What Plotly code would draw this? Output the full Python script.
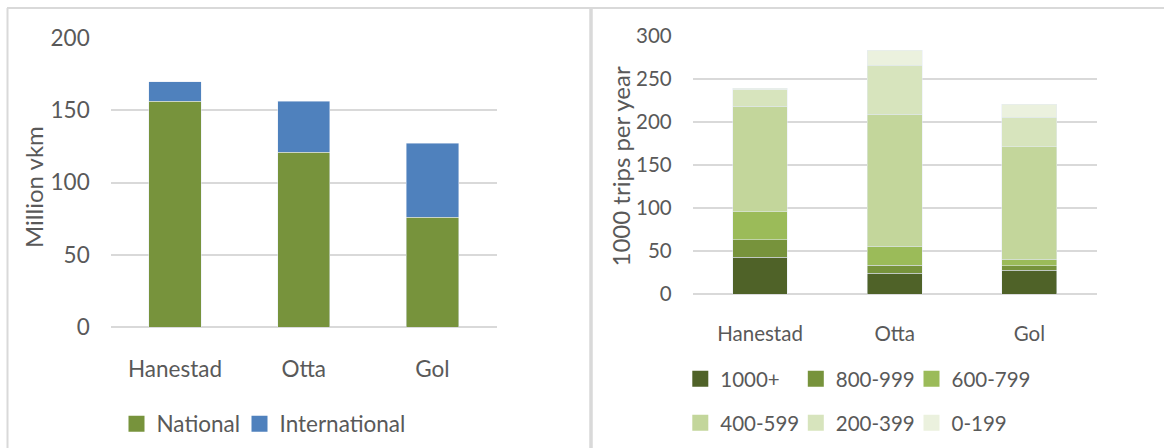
import plotly.graph_objects as go

W, H = 1164, 448

sites = ["Hanestad", "Otta", "Gol"]

# Vehicle kilometres, million vkm
national = [156, 121, 76]
international = [13.5, 35, 51]

# Trips per year (1000), by trip length band (km)
trips_1000_plus = [43.3, 24.7, 28.2]
trips_800_999 = [19.8, 9.3, 4.7]
trips_600_799 = [32.5, 22.1, 8.1]
trips_400_599 = [123.1, 153.3, 130.1]
trips_200_399 = [18.6, 56.9, 34.8]
trips_0_199 = [2.3, 17.4, 15.1]

band_names = ["1000+", "800-999", "600-799", "400-599", "200-399", "0-199"]
band_values = [trips_1000_plus, trips_800_999, trips_600_799,
               trips_400_599, trips_200_399, trips_0_199]
band_colors = ["#4F6228", "#77933C", "#9BBB59", "#C3D69B", "#D7E4BD", "#EBF1DE"]

vkm_names = ["National", "International"]
vkm_values = [national, international]
vkm_colors = ["#77933C", "#4F81BD"]

vkm_ticks = [0, 50, 100, 150, 200]
trip_ticks = [0, 50, 100, 150, 200, 250, 300]

TEXT = "#595959"
GRID = "#D9D9D9"
FONT = "Lato"
LEFT_SIZE = 22.5
RIGHT_SIZE = 20.5


def px(x):
    return x / W


def py(y):
    return 1 - y / H


fig = go.Figure()

# Stacked bars; legend keys are drawn by square-marker entries below
for name, vals, col in zip(vkm_names, vkm_values, vkm_colors):
    fig.add_trace(go.Bar(x=sites, y=vals, name=name, marker_color=col,
                         xaxis="x", yaxis="y", showlegend=False))
for name, vals, col in zip(band_names, band_values, band_colors):
    fig.add_trace(go.Bar(x=sites, y=vals, name=name, marker_color=col,
                         xaxis="x2", yaxis="y2", showlegend=False))

# One legend box per key so each key sits in its own slot
legend_ids = ["legend"] + [f"legend{i}" for i in range(2, 9)]
key_names = vkm_names + band_names
key_colors = vkm_colors + band_colors
key_axes = [("x", "y")] * 2 + [("x2", "y2")] * 6
key_sizes = [LEFT_SIZE] * 2 + [RIGHT_SIZE] * 6
# (left x, centre y) of each legend box, in pixels
key_slots = [(116.5, 424), (239.5, 424),
             (680.3, 379), (795.8, 379), (911.5, 379),
             (680.3, 423), (795.8, 423), (911.5, 423)]

legend_layout = {}
for lid, name, col, (xa, ya), fsize, (lx, ly) in zip(legend_ids, key_names, key_colors,
                                                      key_axes, key_sizes, key_slots):
    fig.add_trace(go.Scatter(x=[None], y=[None], mode="markers", name=name,
                             marker=dict(symbol="square", size=16, color=col),
                             xaxis=xa, yaxis=ya, legend=lid))
    legend_layout[lid] = dict(orientation="h", x=px(lx), y=py(ly),
                              xanchor="left", yanchor="middle",
                              font=dict(family=FONT, color=TEXT, size=fsize),
                              bgcolor="rgba(0,0,0,0)")

grid_style = dict(showline=False, ticks="", gridcolor=GRID, gridwidth=1.5,
                  zeroline=True, zerolinecolor=GRID, zerolinewidth=1.5,
                  automargin=False)
cat_style = dict(showgrid=False, showline=False, zeroline=False, ticks="",
                 automargin=False)

fig.update_layout(
    width=W, height=H,
    margin=dict(l=0, r=0, t=0, b=0, autoexpand=False),
    paper_bgcolor="white", plot_bgcolor="white",
    barmode="stack", bargap=0.593,
    font=dict(family=FONT, color=TEXT),
    xaxis=dict(domain=[px(110.7), px(496.7)], anchor="y", ticklabelstandoff=26,
               tickfont=dict(family=FONT, color=TEXT, size=LEFT_SIZE), **cat_style),
    yaxis=dict(domain=[py(327.3), py(37.7)], anchor="x", range=[0, 200],
               tickvals=vkm_ticks, ticklabelstandoff=20,
               tickfont=dict(family=FONT, color=TEXT, size=LEFT_SIZE), **grid_style),
    xaxis2=dict(domain=[px(692.7), px(1096.7)], anchor="y2", ticklabelstandoff=25,
                tickfont=dict(family=FONT, color=TEXT, size=RIGHT_SIZE), **cat_style),
    yaxis2=dict(domain=[py(294.3), py(36)], anchor="x2", range=[0, 300],
                tickvals=trip_ticks, ticklabelstandoff=20,
                tickfont=dict(family=FONT, color=TEXT, size=RIGHT_SIZE), **grid_style),
    **legend_layout,
)

# Axis titles
fig.add_annotation(text="Million vkm", x=px(33), y=py(187), xref="paper", yref="paper",
                   xanchor="center", yanchor="middle", textangle=-90, showarrow=False,
                   font=dict(family=FONT, color=TEXT, size=24))
fig.add_annotation(text="1000 trips per year", x=px(620), y=py(166.5), xref="paper",
                   yref="paper", xanchor="center", yanchor="middle", textangle=-90,
                   showarrow=False, font=dict(family=FONT, color=TEXT, size=24))

# Chart frames
frame = dict(type="line", xref="paper", yref="paper", line=dict(color=GRID, width=2))
fig.add_shape(**frame, x0=px(7), x1=1, y0=py(8), y1=py(8))
fig.add_shape(**frame, x0=px(7.5), x1=px(7.5), y0=py(8), y1=0)
fig.add_shape(type="line", xref="paper", yref="paper", line=dict(color=GRID, width=3.5),
              x0=px(591), x1=px(591), y0=py(8), y1=0)

fig.write_html("out.html")
